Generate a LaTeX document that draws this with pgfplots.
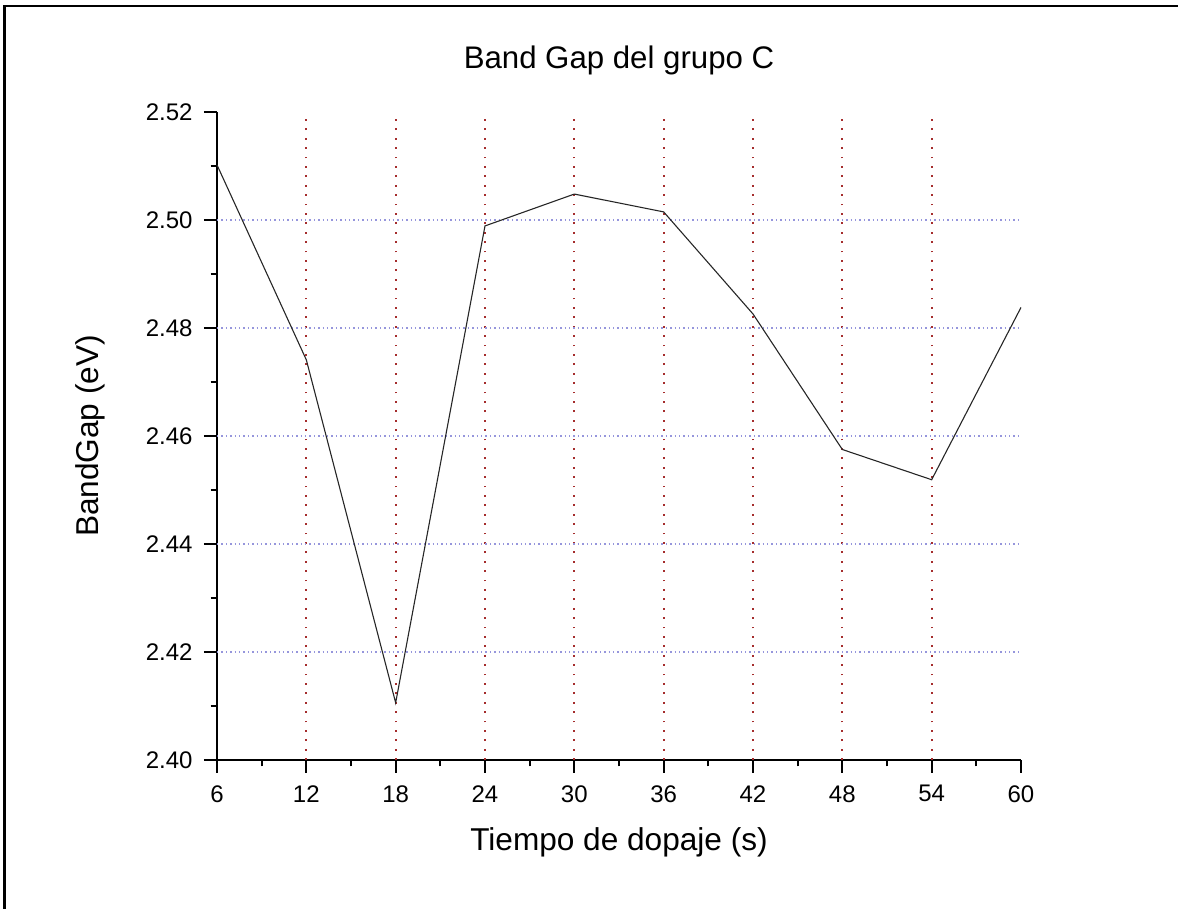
\documentclass[border=0pt]{standalone}
\usepackage{pgfplots}
\pgfplotsset{compat=1.18}
\usepackage{fontspec}
\setmainfont{Liberation Sans}
\definecolor{vgrid}{RGB}{165,45,45}
\definecolor{hgrid}{RGB}{150,150,220}
\begin{document}
\begin{tikzpicture}
\begin{axis}[
  scale only axis,
  width=402pt, height=324pt,
  xmin=6, xmax=60, ymin=2.40, ymax=2.52,
  axis x line*=bottom, axis y line*=left,
  axis line style={line width=1.2pt, -},
  xtick={6,12,...,60},
  ytick={2.40,2.42,...,2.52},
  minor x tick num=1, minor y tick num=1,
  tick align=outside,
  major tick length=6.5pt, minor tick length=3.2pt,
  every tick/.style={black, line width=1pt},
  /pgf/number format/assume math mode=true,
  yticklabel style={/pgf/number format/fixed, /pgf/number format/fixed zerofill, /pgf/number format/precision=2, font=\fontsize{12}{14}\selectfont, anchor=east, inner sep=0pt, xshift=-5.5pt},
  xticklabel style={font=\fontsize{12}{14}\selectfont, anchor=north, inner sep=0pt, yshift=-6pt},
  extra x ticks={12,18,...,54},
  extra x tick labels={},
  extra x tick style={grid=major, major tick length=0pt, major grid style={vgrid, line width=0.9pt, dash pattern=on 0.9pt off 3.8pt}},
  extra y ticks={2.42,2.44,...,2.50},
  extra y tick labels={},
  extra y tick style={grid=major, major tick length=0pt, major grid style={hgrid, line width=0.7pt, dash pattern=on 0.7pt off 1.5pt}},
  title={Band Gap del grupo C},
  title style={at={(0.5,1.048)}, anchor=base, font=\fontsize{15.6}{18}\selectfont, inner sep=0pt},
  xlabel={Tiempo de dopaje (s)},
  xlabel style={at={(0.5,-0.1404)}, anchor=base, font=\fontsize{15.8}{19}\selectfont, inner sep=0pt},
  ylabel={BandGap (eV)},
  ylabel style={at={(-0.148,0.5)}, anchor=base, rotate=0, font=\fontsize{15.8}{19}\selectfont, inner sep=0pt},
  clip=false,
]
\addplot[color=black!85, line width=0.55pt, mark=none] coordinates {
  (6,2.5102) (12,2.4741) (18,2.4106) (24,2.4989) (30,2.5048)
  (36,2.5015) (42,2.4826) (48,2.4575) (54,2.4519) (60,2.4838)
};
\end{axis}
\draw[line width=1.25pt] (-106.25pt,-200pt) -- (-106.25pt,376.9pt) -- (700pt,376.9pt);
\pgfresetboundingbox
\useasboundingbox (-108.5pt,-74.5pt) rectangle (480.5pt,380pt);
\end{tikzpicture}
\end{document}
